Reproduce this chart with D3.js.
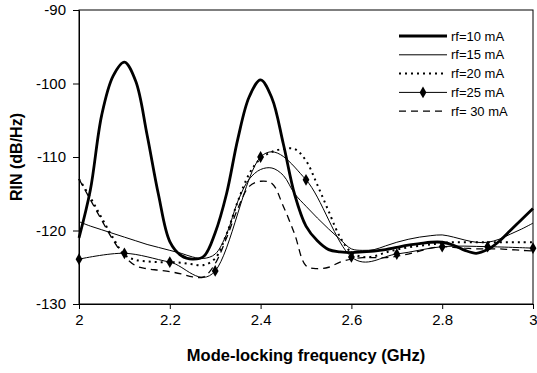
<!DOCTYPE html>
<html><head><meta charset="utf-8">
<script src="https://cdn.jsdelivr.net/npm/d3@7"></script>
<style>body{margin:0;background:#fff}svg{display:block}text{font-family:"Liberation Sans",Arial,sans-serif;fill:#000}</style>
</head><body><svg id="c" width="537" height="373"></svg>
<script>
// frequency grid (GHz), step 0.025
const freq = d3.range(0, 41).map(i => +(2 + i * 0.025).toFixed(3));
// marker grid for rf=25 mA
const freqMarkers = [2.0, 2.1, 2.2, 2.3, 2.4, 2.5, 2.6, 2.7, 2.8, 2.9, 3.0];

const rf10 = [-121.0,-114.5,-104.3,-99.0,-97.1,-99.7,-107.0,-115.1,-121.5,-123.4,-123.9,-123.5,-120.3,-115.0,-107.5,-101.8,-99.5,-102.0,-108.2,-115.1,-119.4,-121.4,-122.6,-122.9,-123.0,-122.9,-122.8,-122.6,-122.3,-122.0,-121.8,-121.6,-121.6,-122.0,-122.7,-123.1,-122.6,-121.5,-120.0,-118.5,-117.0];
const rf15 = [-118.8,-119.4,-119.9,-120.4,-120.9,-121.4,-121.9,-122.3,-122.7,-123.1,-123.6,-123.8,-123.2,-120.5,-116.0,-113.0,-111.7,-111.5,-112.5,-115.0,-116.7,-118.3,-119.8,-121.2,-122.5,-122.7,-122.6,-122.1,-121.6,-121.2,-120.9,-120.7,-120.6,-120.9,-121.3,-121.6,-121.6,-121.2,-120.5,-119.8,-119.0];
const rf20 = [-113.0,-115.5,-118.3,-121.0,-123.3,-124.0,-124.2,-124.3,-124.3,-124.4,-124.6,-124.7,-123.8,-120.5,-116.0,-112.3,-110.2,-109.3,-108.9,-108.9,-110.5,-113.8,-117.4,-120.9,-123.0,-123.6,-123.5,-123.0,-122.6,-122.3,-122.1,-121.9,-121.7,-121.6,-121.6,-121.6,-121.6,-121.6,-121.6,-121.6,-121.6];
const rf25 = [-123.9,-123.1,-124.3,-125.5,-110.0,-113.1,-123.6,-123.2,-122.2,-122.2,-122.4];
const rf30 = [-113.0,-115.8,-118.6,-121.3,-123.5,-124.8,-125.2,-125.4,-125.6,-125.9,-126.3,-126.3,-124.5,-121.0,-117.0,-114.0,-113.3,-113.6,-116.7,-120.5,-124.8,-125.2,-125.0,-124.3,-123.9,-123.7,-123.7,-123.7,-123.5,-123.2,-122.8,-122.4,-122.2,-122.3,-122.4,-122.5,-122.5,-122.5,-122.6,-122.7,-122.8];

const seriesNames = ["rf=10 mA","rf=15 mA","rf=20 mA","rf=25 mA","rf= 30 mA"];
const xTicks = [2, 2.2, 2.4, 2.6, 2.8, 3];
const yTicks = [-90, -100, -110, -120, -130];

const svg = d3.select("#c");
const L = 79, R = 533, T = 10, B = 304;
const x = d3.scaleLinear().domain([2, 3]).range([L, R]);
const y = d3.scaleLinear().domain([-130, -90]).range([B, T]);

// frame
svg.append("rect").attr("x", L).attr("y", T).attr("width", R - L).attr("height", B - T)
  .attr("fill", "none").attr("stroke", "#000").attr("stroke-width", 1);

const gx = svg.append("g").attr("transform", `translate(0,${B})`)
  .call(d3.axisBottom(x).tickValues(xTicks).tickSize(5).tickSizeOuter(0).tickPadding(5).tickFormat(d => String(+d.toFixed(1))));
const gy = svg.append("g").attr("transform", `translate(${L},0)`)
  .call(d3.axisLeft(y).tickValues(yTicks).tickSize(6).tickSizeOuter(0).tickPadding(7).tickFormat(d => String(d)));
[gx, gy].forEach(g => {
  g.select(".domain").attr("stroke", "#000");
  g.selectAll(".tick line").attr("stroke", "#000");
  g.selectAll(".tick text").attr("font-size", 15).attr("font-family", "Liberation Sans, Arial, sans-serif").attr("fill", "#000");
});

svg.append("text").attr("x", (L + R) / 2).attr("y", 361).attr("text-anchor", "middle")
  .attr("font-size", 16.5).attr("font-weight", "bold").text("Mode-locking frequency (GHz)");
svg.append("text").attr("transform", `translate(22,157) rotate(-90)`).attr("text-anchor", "middle")
  .attr("font-size", 16).attr("font-weight", "bold").text("RIN (dB/Hz)");

const plot = svg.append("g");
const lineFine = d3.line().x((d, i) => x(freq[i])).y(d => y(d)).curve(d3.curveCatmullRom);
const lineCoarse = d3.line().x((d, i) => x(freqMarkers[i])).y(d => y(d)).curve(d3.curveCardinal.tension(0));

const styles = [
  {w: 2.8, dash: null},
  {w: 1, dash: null},
  {w: 2, dash: "2,4"},
  {w: 1, dash: null},
  {w: 1.3, dash: "7,5"}
];

plot.append("path").attr("d", lineFine(rf30)).attr("fill","none").attr("stroke","#000").attr("stroke-width",styles[4].w).attr("stroke-dasharray",styles[4].dash);
plot.append("path").attr("d", lineFine(rf20)).attr("fill","none").attr("stroke","#000").attr("stroke-width",styles[2].w).attr("stroke-dasharray",styles[2].dash);
plot.append("path").attr("d", lineFine(rf15)).attr("fill","none").attr("stroke","#000").attr("stroke-width",styles[1].w);
plot.append("path").attr("d", lineCoarse(rf25)).attr("fill","none").attr("stroke","#000").attr("stroke-width",styles[3].w);
plot.append("path").attr("d", lineFine(rf10)).attr("fill","none").attr("stroke","#000").attr("stroke-width",styles[0].w).attr("stroke-linejoin","round");

const diamond = d3.symbol().type(d3.symbolDiamond).size(40);
plot.selectAll(".mk").data(rf25).join("path").attr("class","mk")
  .attr("transform", (d, i) => `translate(${x(freqMarkers[i])},${y(d)})`)
  .attr("d", diamond).attr("fill", "#000");

// legend
const lg = svg.append("g");
const ly0 = 36, ldy = 18.8, lx0 = 399, lx1 = 447;
seriesNames.forEach((name, i) => {
  const yy = ly0 + i * ldy;
  const s = styles[i];
  lg.append("line").attr("x1", lx0).attr("x2", lx1).attr("y1", yy).attr("y2", yy)
    .attr("stroke", "#000").attr("stroke-width", s.w).attr("stroke-dasharray", s.dash);
  if (i === 3) lg.append("path").attr("transform", `translate(${(lx0 + lx1) / 2},${yy})`).attr("d", diamond).attr("fill", "#000");
  lg.append("text").attr("x", 451).attr("y", yy).attr("dy", "0.35em").attr("font-size", 13).text(name);
});
</script></body></html>
